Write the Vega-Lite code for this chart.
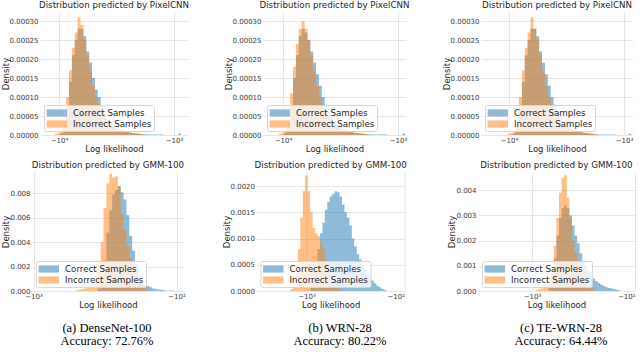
{
  "$schema": "https://vega.github.io/schema/vega-lite/v6.json",
  "padding": 0,
  "spacing": 7,
  "config": {
    "font": "DejaVu Sans",
    "view": {"stroke": null},
    "axis": {"labelFont": "DejaVu Sans", "labelFontSize": 7, "labelColor": "#3a3a3a", "titleFont": "DejaVu Sans", "titleFontSize": 8.5, "titleFontWeight": "normal", "titleColor": "#262626", "ticks": false, "domain": false, "grid": true, "gridColor": "#e6e6e6", "gridWidth": 1},
    "axisX": {"labelPadding": 1, "titlePadding": 1},
    "axisY": {"labelPadding": 2, "titlePadding": -1},
    "title": {"font": "DejaVu Sans", "fontSize": 8.7, "fontWeight": "normal", "color": "#262626", "offset": 2.5, "frame": "group"},
    "legend": {"orient": "bottom-left", "direction": "vertical", "offset": 4, "fillColor": "rgba(255,255,255,0.8)", "strokeColor": "#d6d6d6", "cornerRadius": 2, "padding": 2, "labelFont": "DejaVu Sans", "labelFontSize": 8.7, "labelColor": "#262626", "symbolType": "M-0.9,-0.6H2.5V0.6H-0.9Z", "symbolSize": 144, "symbolOpacity": 0.5, "symbolStrokeWidth": 0, "labelOffset": 15, "rowPadding": 0}
  },
  "datasets": {
    "none": [],
    "A1": [
      {"s":"Correct Samples","m":4.0,"d":0},{"s":"Correct Samples","m":3.975,"d":0.000005},{"s":"Correct Samples","m":3.95,"d":0.00002},{"s":"Correct Samples","m":3.925,"d":0.00007},{"s":"Correct Samples","m":3.9,"d":0.00014},{"s":"Correct Samples","m":3.875,"d":0.00021},{"s":"Correct Samples","m":3.85,"d":0.00025},{"s":"Correct Samples","m":3.825,"d":0.00028},{"s":"Correct Samples","m":3.8,"d":0.00028},{"s":"Correct Samples","m":3.775,"d":0.00026},{"s":"Correct Samples","m":3.75,"d":0.00022},{"s":"Correct Samples","m":3.725,"d":0.00019},{"s":"Correct Samples","m":3.7,"d":0.00015},{"s":"Correct Samples","m":3.675,"d":0.00012},{"s":"Correct Samples","m":3.65,"d":0.0001},{"s":"Correct Samples","m":3.625,"d":0.000078},{"s":"Correct Samples","m":3.6,"d":0.000058},{"s":"Correct Samples","m":3.575,"d":0.000042},{"s":"Correct Samples","m":3.55,"d":0.000032},{"s":"Correct Samples","m":3.525,"d":0.000025},{"s":"Correct Samples","m":3.5,"d":0.00002},{"s":"Correct Samples","m":3.475,"d":0.000016},{"s":"Correct Samples","m":3.45,"d":0.000013},{"s":"Correct Samples","m":3.425,"d":0.00001},{"s":"Correct Samples","m":3.4,"d":0.000008},{"s":"Correct Samples","m":3.375,"d":0.000006},{"s":"Correct Samples","m":3.35,"d":0.000005},{"s":"Correct Samples","m":3.325,"d":0.000004},{"s":"Correct Samples","m":3.3,"d":0.000003},{"s":"Correct Samples","m":3.275,"d":0.000002},{"s":"Correct Samples","m":3.25,"d":0.000002},{"s":"Correct Samples","m":3.225,"d":0.000001},{"s":"Correct Samples","m":3.1,"d":0.000001},{"s":"Correct Samples","m":3.075,"d":0},{"s":"Correct Samples","m":2.975,"d":0},{"s":"Correct Samples","m":2.95,"d":0.000004},{"s":"Correct Samples","m":2.925,"d":0},
      {"s":"Incorrect Samples","m":4.05,"d":0},{"s":"Incorrect Samples","m":4.025,"d":0.000003},{"s":"Incorrect Samples","m":4.0,"d":0.000006},{"s":"Incorrect Samples","m":3.975,"d":0.000012},{"s":"Incorrect Samples","m":3.95,"d":0.00003},{"s":"Incorrect Samples","m":3.925,"d":0.0001},{"s":"Incorrect Samples","m":3.9,"d":0.00017},{"s":"Incorrect Samples","m":3.875,"d":0.00023},{"s":"Incorrect Samples","m":3.85,"d":0.00027},{"s":"Incorrect Samples","m":3.825,"d":0.00031},{"s":"Incorrect Samples","m":3.8,"d":0.00029},{"s":"Incorrect Samples","m":3.775,"d":0.00025},{"s":"Incorrect Samples","m":3.75,"d":0.00021},{"s":"Incorrect Samples","m":3.725,"d":0.00017},{"s":"Incorrect Samples","m":3.7,"d":0.00013},{"s":"Incorrect Samples","m":3.675,"d":0.0001},{"s":"Incorrect Samples","m":3.65,"d":0.000082},{"s":"Incorrect Samples","m":3.625,"d":0.00006},{"s":"Incorrect Samples","m":3.6,"d":0.000045},{"s":"Incorrect Samples","m":3.575,"d":0.000035},{"s":"Incorrect Samples","m":3.55,"d":0.000028},{"s":"Incorrect Samples","m":3.525,"d":0.000022},{"s":"Incorrect Samples","m":3.5,"d":0.000018},{"s":"Incorrect Samples","m":3.475,"d":0.000015},{"s":"Incorrect Samples","m":3.45,"d":0.000012},{"s":"Incorrect Samples","m":3.425,"d":0.00001},{"s":"Incorrect Samples","m":3.4,"d":0.000008},{"s":"Incorrect Samples","m":3.375,"d":0.000006},{"s":"Incorrect Samples","m":3.35,"d":0.000005},{"s":"Incorrect Samples","m":3.325,"d":0.000004},{"s":"Incorrect Samples","m":3.3,"d":0.000003},{"s":"Incorrect Samples","m":3.275,"d":0.000002},{"s":"Incorrect Samples","m":3.25,"d":0}
    ],
    "A2": [
      {"s":"Correct Samples","m":4.0,"d":0},{"s":"Correct Samples","m":3.975,"d":0.000006},{"s":"Correct Samples","m":3.95,"d":0.000022},{"s":"Correct Samples","m":3.925,"d":0.000075},{"s":"Correct Samples","m":3.9,"d":0.00015},{"s":"Correct Samples","m":3.875,"d":0.00021},{"s":"Correct Samples","m":3.85,"d":0.00026},{"s":"Correct Samples","m":3.825,"d":0.00028},{"s":"Correct Samples","m":3.8,"d":0.00027},{"s":"Correct Samples","m":3.775,"d":0.00025},{"s":"Correct Samples","m":3.75,"d":0.00022},{"s":"Correct Samples","m":3.725,"d":0.00019},{"s":"Correct Samples","m":3.7,"d":0.00016},{"s":"Correct Samples","m":3.675,"d":0.00013},{"s":"Correct Samples","m":3.65,"d":0.0001},{"s":"Correct Samples","m":3.625,"d":0.00008},{"s":"Correct Samples","m":3.6,"d":0.00006},{"s":"Correct Samples","m":3.575,"d":0.000045},{"s":"Correct Samples","m":3.55,"d":0.000034},{"s":"Correct Samples","m":3.525,"d":0.000026},{"s":"Correct Samples","m":3.5,"d":0.00002},{"s":"Correct Samples","m":3.475,"d":0.000016},{"s":"Correct Samples","m":3.45,"d":0.000013},{"s":"Correct Samples","m":3.425,"d":0.00001},{"s":"Correct Samples","m":3.4,"d":0.000008},{"s":"Correct Samples","m":3.375,"d":0.000006},{"s":"Correct Samples","m":3.35,"d":0.000005},{"s":"Correct Samples","m":3.325,"d":0.000004},{"s":"Correct Samples","m":3.3,"d":0.000003},{"s":"Correct Samples","m":3.275,"d":0.000002},{"s":"Correct Samples","m":3.25,"d":0.000002},{"s":"Correct Samples","m":3.225,"d":0.000001},{"s":"Correct Samples","m":3.1,"d":0.000001},{"s":"Correct Samples","m":3.075,"d":0},{"s":"Correct Samples","m":2.975,"d":0},{"s":"Correct Samples","m":2.95,"d":0.000004},{"s":"Correct Samples","m":2.925,"d":0},
      {"s":"Incorrect Samples","m":4.05,"d":0},{"s":"Incorrect Samples","m":4.025,"d":0.000003},{"s":"Incorrect Samples","m":4.0,"d":0.000006},{"s":"Incorrect Samples","m":3.975,"d":0.000012},{"s":"Incorrect Samples","m":3.95,"d":0.000035},{"s":"Incorrect Samples","m":3.925,"d":0.00011},{"s":"Incorrect Samples","m":3.9,"d":0.00018},{"s":"Incorrect Samples","m":3.875,"d":0.00024},{"s":"Incorrect Samples","m":3.85,"d":0.00028},{"s":"Incorrect Samples","m":3.825,"d":0.0003},{"s":"Incorrect Samples","m":3.8,"d":0.00028},{"s":"Incorrect Samples","m":3.775,"d":0.00025},{"s":"Incorrect Samples","m":3.75,"d":0.00021},{"s":"Incorrect Samples","m":3.725,"d":0.00017},{"s":"Incorrect Samples","m":3.7,"d":0.00013},{"s":"Incorrect Samples","m":3.675,"d":0.0001},{"s":"Incorrect Samples","m":3.65,"d":0.00008},{"s":"Incorrect Samples","m":3.625,"d":0.00006},{"s":"Incorrect Samples","m":3.6,"d":0.000045},{"s":"Incorrect Samples","m":3.575,"d":0.000035},{"s":"Incorrect Samples","m":3.55,"d":0.000028},{"s":"Incorrect Samples","m":3.525,"d":0.000022},{"s":"Incorrect Samples","m":3.5,"d":0.000018},{"s":"Incorrect Samples","m":3.475,"d":0.000015},{"s":"Incorrect Samples","m":3.45,"d":0.000012},{"s":"Incorrect Samples","m":3.425,"d":0.00001},{"s":"Incorrect Samples","m":3.4,"d":0.000008},{"s":"Incorrect Samples","m":3.375,"d":0.000006},{"s":"Incorrect Samples","m":3.35,"d":0.000005},{"s":"Incorrect Samples","m":3.325,"d":0.000004},{"s":"Incorrect Samples","m":3.3,"d":0.000003},{"s":"Incorrect Samples","m":3.275,"d":0.000002},{"s":"Incorrect Samples","m":3.25,"d":0}
    ],
    "A3": [
      {"s":"Correct Samples","m":3.975,"d":0},{"s":"Correct Samples","m":3.95,"d":0.000005},{"s":"Correct Samples","m":3.925,"d":0.00002},{"s":"Correct Samples","m":3.9,"d":0.00007},{"s":"Correct Samples","m":3.875,"d":0.00014},{"s":"Correct Samples","m":3.85,"d":0.00021},{"s":"Correct Samples","m":3.825,"d":0.00025},{"s":"Correct Samples","m":3.8,"d":0.00028},{"s":"Correct Samples","m":3.775,"d":0.00028},{"s":"Correct Samples","m":3.75,"d":0.00026},{"s":"Correct Samples","m":3.725,"d":0.00022},{"s":"Correct Samples","m":3.7,"d":0.00019},{"s":"Correct Samples","m":3.675,"d":0.00016},{"s":"Correct Samples","m":3.65,"d":0.00013},{"s":"Correct Samples","m":3.625,"d":0.0001},{"s":"Correct Samples","m":3.6,"d":0.00008},{"s":"Correct Samples","m":3.575,"d":0.00006},{"s":"Correct Samples","m":3.55,"d":0.000044},{"s":"Correct Samples","m":3.525,"d":0.000033},{"s":"Correct Samples","m":3.5,"d":0.000025},{"s":"Correct Samples","m":3.475,"d":0.00002},{"s":"Correct Samples","m":3.45,"d":0.000016},{"s":"Correct Samples","m":3.425,"d":0.000013},{"s":"Correct Samples","m":3.4,"d":0.00001},{"s":"Correct Samples","m":3.375,"d":0.000008},{"s":"Correct Samples","m":3.35,"d":0.000006},{"s":"Correct Samples","m":3.325,"d":0.000005},{"s":"Correct Samples","m":3.3,"d":0.000004},{"s":"Correct Samples","m":3.275,"d":0.000003},{"s":"Correct Samples","m":3.25,"d":0.000002},{"s":"Correct Samples","m":3.2,"d":0.000001},{"s":"Correct Samples","m":3.075,"d":0.000001},{"s":"Correct Samples","m":3.05,"d":0},{"s":"Correct Samples","m":2.975,"d":0},{"s":"Correct Samples","m":2.95,"d":0.000004},{"s":"Correct Samples","m":2.925,"d":0},
      {"s":"Incorrect Samples","m":4.025,"d":0},{"s":"Incorrect Samples","m":4.0,"d":0.000003},{"s":"Incorrect Samples","m":3.975,"d":0.000006},{"s":"Incorrect Samples","m":3.95,"d":0.000012},{"s":"Incorrect Samples","m":3.925,"d":0.00003},{"s":"Incorrect Samples","m":3.9,"d":0.0001},{"s":"Incorrect Samples","m":3.875,"d":0.00017},{"s":"Incorrect Samples","m":3.85,"d":0.00023},{"s":"Incorrect Samples","m":3.825,"d":0.00027},{"s":"Incorrect Samples","m":3.8,"d":0.00031},{"s":"Incorrect Samples","m":3.775,"d":0.00028},{"s":"Incorrect Samples","m":3.75,"d":0.00025},{"s":"Incorrect Samples","m":3.725,"d":0.00021},{"s":"Incorrect Samples","m":3.7,"d":0.00017},{"s":"Incorrect Samples","m":3.675,"d":0.00013},{"s":"Incorrect Samples","m":3.65,"d":0.0001},{"s":"Incorrect Samples","m":3.625,"d":0.00008},{"s":"Incorrect Samples","m":3.6,"d":0.00006},{"s":"Incorrect Samples","m":3.575,"d":0.000045},{"s":"Incorrect Samples","m":3.55,"d":0.000035},{"s":"Incorrect Samples","m":3.525,"d":0.000028},{"s":"Incorrect Samples","m":3.5,"d":0.000022},{"s":"Incorrect Samples","m":3.475,"d":0.000018},{"s":"Incorrect Samples","m":3.45,"d":0.000015},{"s":"Incorrect Samples","m":3.425,"d":0.000012},{"s":"Incorrect Samples","m":3.4,"d":0.00001},{"s":"Incorrect Samples","m":3.375,"d":0.000008},{"s":"Incorrect Samples","m":3.35,"d":0.000006},{"s":"Incorrect Samples","m":3.325,"d":0.000005},{"s":"Incorrect Samples","m":3.3,"d":0.000004},{"s":"Incorrect Samples","m":3.275,"d":0.000003},{"s":"Incorrect Samples","m":3.25,"d":0.000002},{"s":"Incorrect Samples","m":3.225,"d":0}
    ],
    "B1": [
      {"s":"Correct Samples","m":2.56,"d":0},{"s":"Correct Samples","m":2.54,"d":0.0002},{"s":"Correct Samples","m":2.52,"d":0.0008},{"s":"Correct Samples","m":2.5,"d":0.0025},{"s":"Correct Samples","m":2.48,"d":0.0048},{"s":"Correct Samples","m":2.46,"d":0.0066},{"s":"Correct Samples","m":2.44,"d":0.0079},{"s":"Correct Samples","m":2.42,"d":0.0083},{"s":"Correct Samples","m":2.4,"d":0.0086},{"s":"Correct Samples","m":2.38,"d":0.0081},{"s":"Correct Samples","m":2.36,"d":0.0075},{"s":"Correct Samples","m":2.34,"d":0.0062},{"s":"Correct Samples","m":2.32,"d":0.0045},{"s":"Correct Samples","m":2.3,"d":0.0033},{"s":"Correct Samples","m":2.28,"d":0.0022},{"s":"Correct Samples","m":2.26,"d":0.0011},{"s":"Correct Samples","m":2.24,"d":0.0007},{"s":"Correct Samples","m":2.22,"d":0.0005},{"s":"Correct Samples","m":2.2,"d":0.0004},{"s":"Correct Samples","m":2.18,"d":0.0003},{"s":"Correct Samples","m":2.16,"d":0.0002},{"s":"Correct Samples","m":2.14,"d":0.00015},{"s":"Correct Samples","m":2.12,"d":0.0001},{"s":"Correct Samples","m":2.1,"d":0.0001},{"s":"Correct Samples","m":2.08,"d":0.00005},{"s":"Correct Samples","m":2.06,"d":0.00003},{"s":"Correct Samples","m":2.04,"d":0.00005},{"s":"Correct Samples","m":2.02,"d":0.00003},{"s":"Correct Samples","m":2.0,"d":0},
      {"s":"Incorrect Samples","m":2.72,"d":0},{"s":"Incorrect Samples","m":2.7,"d":0.00005},{"s":"Incorrect Samples","m":2.68,"d":0.0001},{"s":"Incorrect Samples","m":2.66,"d":0.00015},{"s":"Incorrect Samples","m":2.64,"d":0.0002},{"s":"Incorrect Samples","m":2.62,"d":0.0003},{"s":"Incorrect Samples","m":2.6,"d":0.0004},{"s":"Incorrect Samples","m":2.58,"d":0.0007},{"s":"Incorrect Samples","m":2.56,"d":0.0012},{"s":"Incorrect Samples","m":2.54,"d":0.0024},{"s":"Incorrect Samples","m":2.52,"d":0.004},{"s":"Incorrect Samples","m":2.5,"d":0.0068},{"s":"Incorrect Samples","m":2.48,"d":0.0088},{"s":"Incorrect Samples","m":2.46,"d":0.0096},{"s":"Incorrect Samples","m":2.44,"d":0.0093},{"s":"Incorrect Samples","m":2.42,"d":0.0094},{"s":"Incorrect Samples","m":2.4,"d":0.0086},{"s":"Incorrect Samples","m":2.38,"d":0.0063},{"s":"Incorrect Samples","m":2.36,"d":0.005},{"s":"Incorrect Samples","m":2.34,"d":0.0037},{"s":"Incorrect Samples","m":2.32,"d":0.0027},{"s":"Incorrect Samples","m":2.3,"d":0.0017},{"s":"Incorrect Samples","m":2.28,"d":0.001},{"s":"Incorrect Samples","m":2.26,"d":0.0006},{"s":"Incorrect Samples","m":2.24,"d":0.0004},{"s":"Incorrect Samples","m":2.22,"d":0.0002},{"s":"Incorrect Samples","m":2.2,"d":0.0001},{"s":"Incorrect Samples","m":2.18,"d":0}
    ],
    "B2": [
      {"s":"Correct Samples","m":2.975,"d":0},{"s":"Correct Samples","m":2.95,"d":0.0001},{"s":"Correct Samples","m":2.925,"d":0.0003},{"s":"Correct Samples","m":2.9,"d":0.0005},{"s":"Correct Samples","m":2.875,"d":0.0008},{"s":"Correct Samples","m":2.85,"d":0.0011},{"s":"Correct Samples","m":2.825,"d":0.0013},{"s":"Correct Samples","m":2.8,"d":0.00155},{"s":"Correct Samples","m":2.775,"d":0.0017},{"s":"Correct Samples","m":2.75,"d":0.0018},{"s":"Correct Samples","m":2.725,"d":0.00185},{"s":"Correct Samples","m":2.7,"d":0.0019},{"s":"Correct Samples","m":2.675,"d":0.00188},{"s":"Correct Samples","m":2.65,"d":0.0018},{"s":"Correct Samples","m":2.625,"d":0.00165},{"s":"Correct Samples","m":2.6,"d":0.0015},{"s":"Correct Samples","m":2.575,"d":0.0014},{"s":"Correct Samples","m":2.55,"d":0.00125},{"s":"Correct Samples","m":2.525,"d":0.001},{"s":"Correct Samples","m":2.5,"d":0.00085},{"s":"Correct Samples","m":2.475,"d":0.0007},{"s":"Correct Samples","m":2.45,"d":0.0006},{"s":"Correct Samples","m":2.425,"d":0.0005},{"s":"Correct Samples","m":2.4,"d":0.0004},{"s":"Correct Samples","m":2.375,"d":0.00032},{"s":"Correct Samples","m":2.35,"d":0.00025},{"s":"Correct Samples","m":2.325,"d":0.0002},{"s":"Correct Samples","m":2.3,"d":0.00015},{"s":"Correct Samples","m":2.275,"d":0.0001},{"s":"Correct Samples","m":2.25,"d":0.00007},{"s":"Correct Samples","m":2.225,"d":0.00004},{"s":"Correct Samples","m":2.2,"d":0.00002},{"s":"Correct Samples","m":2.175,"d":0},
      {"s":"Incorrect Samples","m":3.175,"d":0},{"s":"Incorrect Samples","m":3.15,"d":0.00004},{"s":"Incorrect Samples","m":3.125,"d":0.0001},{"s":"Incorrect Samples","m":3.1,"d":0.0003},{"s":"Incorrect Samples","m":3.075,"d":0.0008},{"s":"Incorrect Samples","m":3.05,"d":0.0014},{"s":"Incorrect Samples","m":3.025,"d":0.0019},{"s":"Incorrect Samples","m":3.0,"d":0.0022},{"s":"Incorrect Samples","m":2.975,"d":0.0019},{"s":"Incorrect Samples","m":2.95,"d":0.0015},{"s":"Incorrect Samples","m":2.925,"d":0.0012},{"s":"Incorrect Samples","m":2.9,"d":0.0011},{"s":"Incorrect Samples","m":2.875,"d":0.00105},{"s":"Incorrect Samples","m":2.85,"d":0.00095},{"s":"Incorrect Samples","m":2.825,"d":0.0008},{"s":"Incorrect Samples","m":2.8,"d":0.0006},{"s":"Incorrect Samples","m":2.775,"d":0.0004},{"s":"Incorrect Samples","m":2.75,"d":0.00022},{"s":"Incorrect Samples","m":2.725,"d":0.00012},{"s":"Incorrect Samples","m":2.7,"d":0.00008},{"s":"Incorrect Samples","m":2.675,"d":0.00005},{"s":"Incorrect Samples","m":2.65,"d":0.00002},{"s":"Incorrect Samples","m":2.625,"d":0}
    ],
    "B3": [
      {"s":"Correct Samples","m":2.85,"d":0},{"s":"Correct Samples","m":2.825,"d":0.0002},{"s":"Correct Samples","m":2.8,"d":0.0006},{"s":"Correct Samples","m":2.775,"d":0.0013},{"s":"Correct Samples","m":2.75,"d":0.0022},{"s":"Correct Samples","m":2.725,"d":0.0029},{"s":"Correct Samples","m":2.7,"d":0.0033},{"s":"Correct Samples","m":2.675,"d":0.0034},{"s":"Correct Samples","m":2.65,"d":0.0033},{"s":"Correct Samples","m":2.625,"d":0.003},{"s":"Correct Samples","m":2.6,"d":0.0026},{"s":"Correct Samples","m":2.575,"d":0.0022},{"s":"Correct Samples","m":2.55,"d":0.0019},{"s":"Correct Samples","m":2.525,"d":0.0015},{"s":"Correct Samples","m":2.5,"d":0.0012},{"s":"Correct Samples","m":2.475,"d":0.001},{"s":"Correct Samples","m":2.45,"d":0.0008},{"s":"Correct Samples","m":2.425,"d":0.0006},{"s":"Correct Samples","m":2.4,"d":0.0005},{"s":"Correct Samples","m":2.375,"d":0.0004},{"s":"Correct Samples","m":2.35,"d":0.00032},{"s":"Correct Samples","m":2.325,"d":0.00025},{"s":"Correct Samples","m":2.3,"d":0.0002},{"s":"Correct Samples","m":2.275,"d":0.00015},{"s":"Correct Samples","m":2.25,"d":0.00012},{"s":"Correct Samples","m":2.225,"d":0.0001},{"s":"Correct Samples","m":2.2,"d":0.00007},{"s":"Correct Samples","m":2.175,"d":0.00005},{"s":"Correct Samples","m":2.15,"d":0.00003},{"s":"Correct Samples","m":2.125,"d":0},
      {"s":"Incorrect Samples","m":2.975,"d":0},{"s":"Incorrect Samples","m":2.95,"d":0.00005},{"s":"Incorrect Samples","m":2.925,"d":0.00008},{"s":"Incorrect Samples","m":2.9,"d":0.0001},{"s":"Incorrect Samples","m":2.875,"d":0.00015},{"s":"Incorrect Samples","m":2.85,"d":0.0002},{"s":"Incorrect Samples","m":2.825,"d":0.0004},{"s":"Incorrect Samples","m":2.8,"d":0.0009},{"s":"Incorrect Samples","m":2.775,"d":0.0018},{"s":"Incorrect Samples","m":2.75,"d":0.0029},{"s":"Incorrect Samples","m":2.725,"d":0.0039},{"s":"Incorrect Samples","m":2.7,"d":0.0045},{"s":"Incorrect Samples","m":2.675,"d":0.0046},{"s":"Incorrect Samples","m":2.65,"d":0.0037},{"s":"Incorrect Samples","m":2.625,"d":0.0029},{"s":"Incorrect Samples","m":2.6,"d":0.002},{"s":"Incorrect Samples","m":2.575,"d":0.0015},{"s":"Incorrect Samples","m":2.55,"d":0.0012},{"s":"Incorrect Samples","m":2.525,"d":0.0009},{"s":"Incorrect Samples","m":2.5,"d":0.0006},{"s":"Incorrect Samples","m":2.475,"d":0.0004},{"s":"Incorrect Samples","m":2.45,"d":0.0002},{"s":"Incorrect Samples","m":2.425,"d":0.0001},{"s":"Incorrect Samples","m":2.4,"d":0.00005},{"s":"Incorrect Samples","m":2.375,"d":0}
    ],
    "C1": [{"line":1,"text":"(a) DenseNet-100"},{"line":2,"text":"Accuracy: 72.76%"}],
    "C2": [{"line":1,"text":"(b) WRN-28"},{"line":2,"text":"Accuracy: 80.22%"}],
    "C3": [{"line":1,"text":"(c) TE-WRN-28"},{"line":2,"text":"Accuracy: 64.44%"}]
  },
  "vconcat": [
    {
      "spacing": 0,
      "hconcat": [
        {"width": 1, "height": 1, "data": {"name": "none"}, "mark": "point"},
        {
          "spacing": 75,
          "bounds": "flush",
          "hconcat": [
            {
              "title": "Distribution predicted by PixelCNN",
              "width": 148, "height": 123,
              "data": {"name": "A1"},
              "mark": {"type": "area", "interpolate": "step", "opacity": 0.5, "clip": true},
              "encoding": {
                "x": {"field": "m", "type": "quantitative", "scale": {"domain": [2.878, 4.165], "reverse": true, "nice": false, "zero": false}, "axis": {"values": [4, 3], "labelExpr": "datum.value == 4 ? '−10⁴' : '−10³'", "title": "Log likelihood"}},
                "y": {"field": "d", "type": "quantitative", "stack": null, "scale": {"domain": [0, 0.000324], "nice": false}, "axis": {"values": [0, 0.00005, 0.0001, 0.00015, 0.0002, 0.00025, 0.0003], "format": ".5f", "title": "Density"}},
                "color": {"field": "s", "type": "nominal", "scale": {"domain": ["Correct Samples", "Incorrect Samples"], "range": ["#1f77b4", "#ff7f0e"]}, "legend": {"title": null}}
              }
            },
            {
              "title": "Distribution predicted by PixelCNN",
              "width": 143, "height": 123,
              "data": {"name": "A2"},
              "mark": {"type": "area", "interpolate": "step", "opacity": 0.5, "clip": true},
              "encoding": {
                "x": {"field": "m", "type": "quantitative", "scale": {"domain": [2.93, 4.174], "reverse": true, "nice": false, "zero": false}, "axis": {"values": [4, 3], "labelExpr": "datum.value == 4 ? '−10⁴' : '−10³'", "title": "Log likelihood"}},
                "y": {"field": "d", "type": "quantitative", "stack": null, "scale": {"domain": [0, 0.000324], "nice": false}, "axis": {"values": [0, 0.00005, 0.0001, 0.00015, 0.0002, 0.00025, 0.0003], "format": ".5f", "title": "Density"}},
                "color": {"field": "s", "type": "nominal", "scale": {"domain": ["Correct Samples", "Incorrect Samples"], "range": ["#1f77b4", "#ff7f0e"]}, "legend": {"title": null}}
              }
            },
            {
              "title": "Distribution predicted by PixelCNN",
              "width": 152, "height": 123,
              "data": {"name": "A3"},
              "mark": {"type": "area", "interpolate": "step", "opacity": 0.5, "clip": true},
              "encoding": {
                "x": {"field": "m", "type": "quantitative", "scale": {"domain": [2.922, 4.243], "reverse": true, "nice": false, "zero": false}, "axis": {"values": [4, 3], "labelExpr": "datum.value == 4 ? '−10⁴' : '−10³'", "title": "Log likelihood"}},
                "y": {"field": "d", "type": "quantitative", "stack": null, "scale": {"domain": [0, 0.000324], "nice": false}, "axis": {"values": [0, 0.00005, 0.0001, 0.00015, 0.0002, 0.00025, 0.0003], "format": ".5f", "title": "Density"}},
                "color": {"field": "s", "type": "nominal", "scale": {"domain": ["Correct Samples", "Incorrect Samples"], "range": ["#1f77b4", "#ff7f0e"]}, "legend": {"title": null}}
              }
            }
          ],
          "resolve": {"scale": {"color": "independent"}, "legend": {"color": "independent"}}
        }
      ],
      "resolve": {"scale": {"color": "independent"}, "legend": {"color": "independent"}}
    },
    {
      "spacing": 0,
      "hconcat": [
        {"width": 1, "height": 1, "data": {"name": "none"}, "mark": "point"},
        {
          "spacing": 72.5,
          "bounds": "flush",
          "hconcat": [
            {
              "title": "Distribution predicted by GMM-100",
              "width": 152, "height": 119,
              "data": {"name": "B1"},
              "mark": {"type": "area", "interpolate": "step", "opacity": 0.5, "clip": true},
              "encoding": {
                "x": {"field": "m", "type": "quantitative", "scale": {"domain": [1.9476, 3.0105], "reverse": true, "nice": false, "zero": false}, "axis": {"values": [3, 2], "labelExpr": "datum.value == 3 ? '−10³' : '−10²'", "title": "Log likelihood"}},
                "y": {"field": "d", "type": "quantitative", "stack": null, "scale": {"domain": [0, 0.00975], "nice": false}, "axis": {"values": [0, 0.002, 0.004, 0.006, 0.008], "format": ".3f", "title": "Density"}},
                "color": {"field": "s", "type": "nominal", "scale": {"domain": ["Correct Samples", "Incorrect Samples"], "range": ["#1f77b4", "#ff7f0e"]}, "legend": {"title": null}}
              }
            },
            {
              "title": "Distribution predicted by GMM-100",
              "width": 148.5, "height": 119,
              "data": {"name": "B2"},
              "mark": {"type": "area", "interpolate": "step", "opacity": 0.5, "clip": true},
              "encoding": {
                "x": {"field": "m", "type": "quantitative", "scale": {"domain": [1.995, 3.51], "reverse": true, "nice": false, "zero": false}, "axis": {"values": [3, 2], "labelExpr": "datum.value == 3 ? '−10³' : '−10²'", "title": "Log likelihood"}},
                "y": {"field": "d", "type": "quantitative", "stack": null, "scale": {"domain": [0, 0.002267], "nice": false}, "axis": {"values": [0, 0.0005, 0.001, 0.0015, 0.002], "format": ".4f", "title": "Density"}},
                "color": {"field": "s", "type": "nominal", "scale": {"domain": ["Correct Samples", "Incorrect Samples"], "range": ["#1f77b4", "#ff7f0e"]}, "legend": {"title": null}}
              }
            },
            {
              "title": "Distribution predicted by GMM-100",
              "width": 157, "height": 119,
              "data": {"name": "B3"},
              "mark": {"type": "area", "interpolate": "step", "opacity": 0.5, "clip": true},
              "encoding": {
                "x": {"field": "m", "type": "quantitative", "scale": {"domain": [2.0, 3.524], "reverse": true, "nice": false, "zero": false}, "axis": {"values": [3, 2], "labelExpr": "datum.value == 3 ? '−10³' : '−10²'", "title": "Log likelihood"}},
                "y": {"field": "d", "type": "quantitative", "stack": null, "scale": {"domain": [0, 0.004727], "nice": false}, "axis": {"values": [0, 0.001, 0.002, 0.003, 0.004], "format": ".3f", "title": "Density"}},
                "color": {"field": "s", "type": "nominal", "scale": {"domain": ["Correct Samples", "Incorrect Samples"], "range": ["#1f77b4", "#ff7f0e"]}, "legend": {"title": null}}
              }
            }
          ],
          "resolve": {"scale": {"color": "independent"}, "legend": {"color": "independent"}}
        }
      ],
      "resolve": {"scale": {"color": "independent"}, "legend": {"color": "independent"}}
    },
    {
      "spacing": 0,
      "hconcat": [
        {"width": 1, "height": 1, "data": {"name": "none"}, "mark": "point"},
        {
          "spacing": 37,
          "hconcat": [
            {
              "width": 212, "height": 37,
              "data": {"name": "C1"},
              "mark": {"type": "text", "font": "Liberation Serif", "fontSize": 12.5, "color": "#000000", "align": "center", "baseline": "middle"},
              "encoding": {"y": {"field": "line", "type": "ordinal", "axis": null, "scale": {"padding": 0.923}}, "text": {"field": "text"}}
            },
            {
              "spacing": 56,
              "hconcat": [
                {
                  "width": 180, "height": 37,
                  "data": {"name": "C2"},
                  "mark": {"type": "text", "font": "Liberation Serif", "fontSize": 12.5, "color": "#000000", "align": "center", "baseline": "middle"},
                  "encoding": {"y": {"field": "line", "type": "ordinal", "axis": null, "scale": {"padding": 0.923}}, "text": {"field": "text"}}
                },
                {
                  "width": 150, "height": 37,
                  "data": {"name": "C3"},
                  "mark": {"type": "text", "font": "Liberation Serif", "fontSize": 12.5, "color": "#000000", "align": "center", "baseline": "middle"},
                  "encoding": {"y": {"field": "line", "type": "ordinal", "axis": null, "scale": {"padding": 0.923}}, "text": {"field": "text"}}
                }
              ]
            }
          ]
        }
      ]
    }
  ],
  "resolve": {"scale": {"color": "independent"}, "legend": {"color": "independent"}}
}
